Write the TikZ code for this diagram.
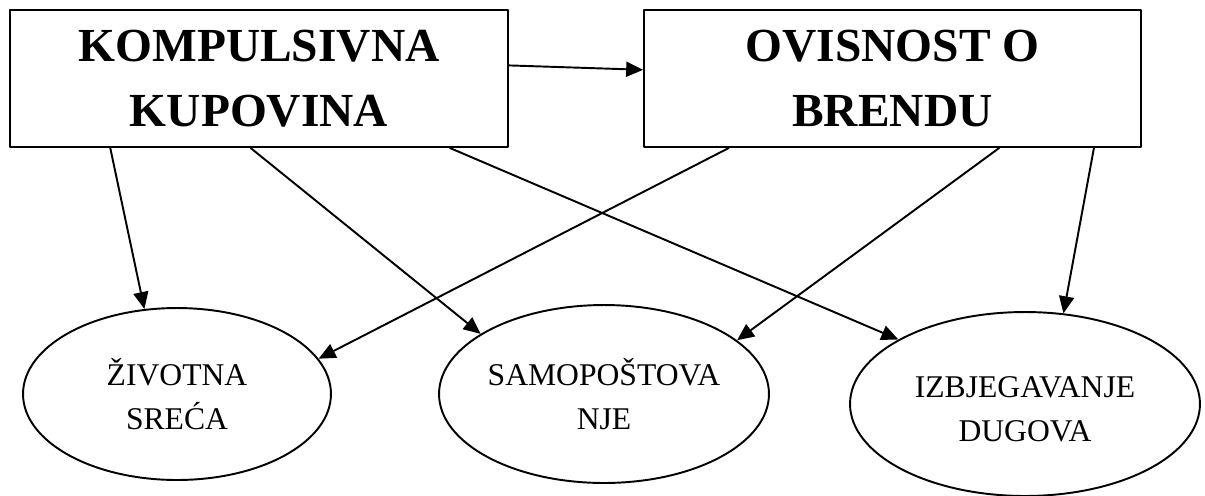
\documentclass[tikz,border=0pt]{standalone}
\usepackage{fontspec}
\setmainfont{Liberation Serif}
\usetikzlibrary{shapes.geometric,arrows.meta}
\tikzset{
	kutija/.style={draw, line width=1pt, inner sep=0pt, align=center, minimum height=2.74cm, font=\fontsize{27}{37}\selectfont\bfseries},
	elipsa/.style={draw, ellipse, line width=1.1pt, inner sep=0pt, align=center, font=\fontsize{18}{25}\selectfont},
	veza/.style={->, line width=1.1pt}
}
\begin{document}
\begin{tikzpicture}[x=0.02cm, y=-0.02cm, line join=round, >={Triangle[length=0.34cm,width=0.3cm]}]
	\useasboundingbox (0,0) rectangle (1205,495);
	% gornje kutije
	\path 
	(259,78.5) node[kutija, minimum width=9.96cm] (kup) {KOMPULSIVNA\\KUPOVINA}
	(892.5,78.5) node[kutija, minimum width=9.94cm] (ovi) {OVISNOST O\\BRENDU};
	% donje elipse
	\path 
	(177,394) node[elipsa, minimum width=6.16cm, minimum height=3.44cm] (ziv) {ŽIVOTNA\\SREĆA}
	(604,394) node[elipsa, minimum width=6.6cm, minimum height=3.56cm] (sam) {SAMOPOŠTOVA\\NJE}
	(1025,404) node[elipsa, minimum width=7cm, minimum height=3.68cm] (izb) {\rule{0pt}{18pt}IZBJEGAVANJE\\DUGOVA};
	\draw[veza] (kup.3.6)--(ovi.178.5);
	\draw[veza] (kup.-155.7)--(ziv.111.1);
	\draw[veza] (kup.-97.5)--(sam.154.3);
	\draw[veza] (kup.-20.7)--(izb.153.4);
	\draw[veza] (ovi.-157.1)--(ziv.14);
	\draw[veza] (ovi.-33.5)--(sam.22.3);
	\draw[veza] (ovi.-19.1)--(izb.67.9);
\end{tikzpicture}
\end{document}
